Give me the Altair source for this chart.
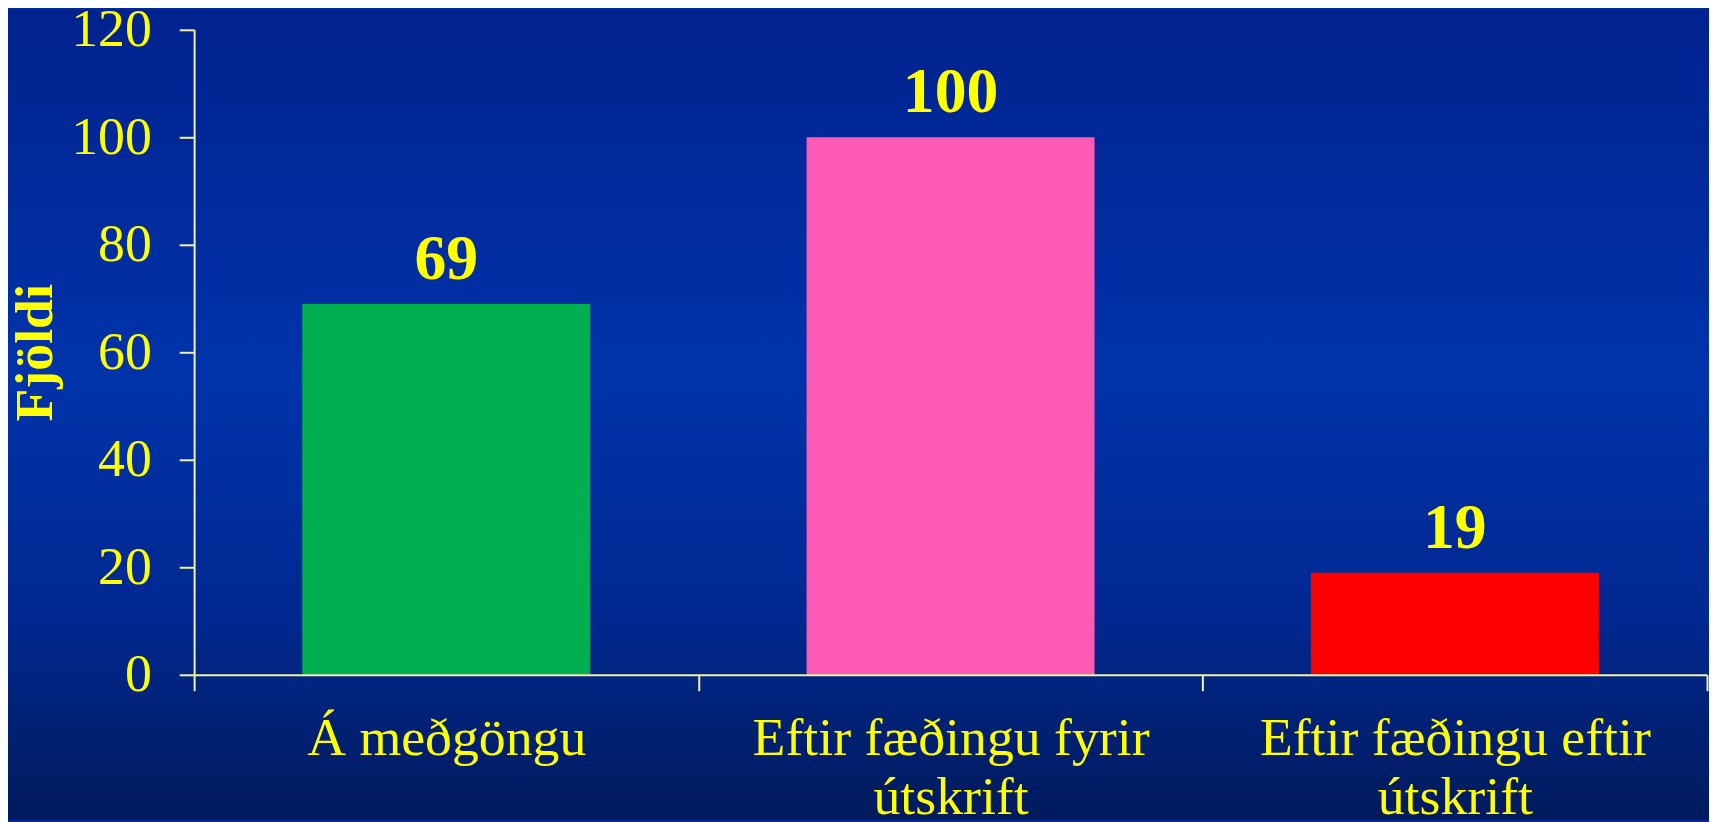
import altair as alt
import pandas as pd

categories = ["Á meðgöngu", "Eftir fæðingu fyrir|útskrift", "Eftir fæðingu eftir|útskrift"]
values = [69, 100, 19]
colors = ["#00b050", "#fc5ab4", "#ff0000"]
y_ticks = [0, 20, 40, 60, 80, 100, 120]

df = pd.DataFrame({"cat": categories, "val": values, "color": colors})

W, H = 1520, 648
PAD = {"left": 187, "top": 20, "right": 2, "bottom": 146}
YEL = "#ffff00"
AXC = "#f2f2a0"
FONT = "Liberation Serif"

grad = alt.LinearGradient(
    gradient="linear", x1=0, y1=0, x2=0, y2=1,
    stops=[
        alt.GradientStop(offset=0, color="#00228e"),
        alt.GradientStop(offset=0.45, color="#0033aa"),
        alt.GradientStop(offset=0.75, color="#002890"),
        alt.GradientStop(offset=1, color="#001a5c"),
    ],
)

bg = alt.Chart(alt.Data(values=[{}])).mark_rect(fill=grad).encode(
    x=alt.value(-PAD["left"]), x2=alt.value(W + PAD["right"]),
    y=alt.value(-PAD["top"]), y2=alt.value(H + PAD["bottom"]),
)

base = alt.Chart(df)

x_enc = alt.X(
    "cat:N", sort=categories,
    scale=alt.Scale(paddingInner=0, paddingOuter=0),
    axis=alt.Axis(
        title=None, labelAngle=0, tickBand="extent", tickSize=16, tickWidth=2,
        tickColor=AXC, domainColor=AXC, domainWidth=2,
        labelPadding=64, labelBaseline="alphabetic", labelLineHeight=59,
        labelExpr="split(datum.label, '|')", labelLimit=700,
        labelFont=FONT, labelFontSize=54, labelColor=YEL,
        labelOverlap=False, labelFlush=False, zindex=1,
    ),
)

y_enc = alt.Y(
    "val:Q", scale=alt.Scale(domain=[0, 120], nice=False),
    axis=alt.Axis(
        values=y_ticks, grid=False, tickSize=15, tickWidth=2, tickColor=AXC,
        domainColor=AXC, domainWidth=2, labelPadding=28,
        labelFont=FONT, labelFontSize=54, labelColor=YEL,
        title="Fjöldi", titleFont=FONT, titleFontSize=54, titleFontWeight="bold",
        titleColor=YEL, titleX=-143, titleY=H / 2, titleBaseline="alphabetic",
        titleAlign="center", zindex=1,
    ),
)

bars = base.mark_bar(width=alt.RelativeBandSize(0.571)).encode(
    x=x_enc, y=y_enc, color=alt.Color("color:N", scale=None),
)

texts = base.mark_text(
    dy=-25, fontSize=64, fontWeight="bold", font=FONT, color=YEL, baseline="alphabetic",
).encode(x=alt.X("cat:N", sort=categories), y="val:Q", text="val:Q")

chart = alt.layer(bg, bars, texts).properties(
    width=W, height=H,
    autosize=alt.AutoSizeParams(type="none"),
    padding=PAD,
    background="#002a98",
).configure_view(stroke=None)

chart.save("out.html", embed_options={"renderer": "svg", "actions": False})
